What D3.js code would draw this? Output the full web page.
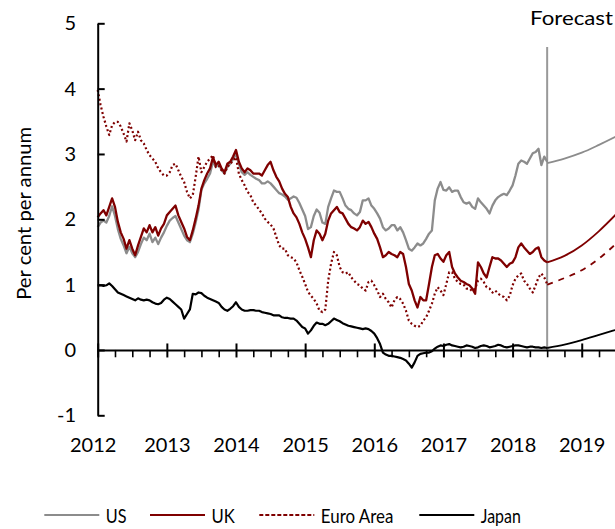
<!DOCTYPE html>
<html>
<head>
<meta charset="utf-8">
<script src="https://cdn.jsdelivr.net/npm/d3@7"></script>
<style>
  html, body { margin: 0; padding: 0; background: #fff; }
  svg { display: block; font-family: Lato, "Open Sans", sans-serif; }
</style>
</head>
<body>
<svg id="chart" width="615" height="529"></svg>
<script>
// ---------- DATA ----------
// History: semi-monthly observations starting Jan 2012 (decimal years), ending mid-2018
const histStart = 2012;
const histStep = 1 / 24;

const usHist = [
  1.88,1.95,1.98,1.95,2.05,2.20,2.05,1.85,1.70,1.60,1.48,1.58,1.48,1.42,1.50,1.62,1.72,1.68,1.78,1.65,1.72,1.62,1.72,1.80,1.90,1.98,2.02,2.05,1.95,1.85,1.75,1.68,1.65,1.78,1.95,2.15,2.45,2.55,2.62,2.70,2.88,
  2.80,2.85,2.75,2.70,2.80,2.85,2.92,3.00,2.85,2.72,2.68,2.72,2.68,2.65,2.62,2.60,2.55,2.55,2.58,2.55,2.50,2.45,2.40,2.38,2.35,2.30,2.32,2.35,2.33,2.25,2.15,2.05,1.85,1.88,2.05,2.15,2.10,1.95,
  1.93,2.19,2.32,2.44,2.42,2.42,2.32,2.21,2.16,2.14,2.09,2.06,2.11,2.29,2.29,2.32,2.21,2.16,2.09,2.01,1.88,1.83,1.86,1.91,1.91,1.83,1.88,1.80,1.68,1.55,1.52,1.57,1.63,1.60,1.63,1.70,1.78,1.83,2.29,2.47,2.57,2.45,
  2.44,2.49,2.42,2.44,2.44,2.34,2.26,2.24,2.26,2.19,2.16,2.32,2.26,2.21,2.16,2.09,2.21,2.29,2.34,2.37,2.39,2.37,2.44,2.52,2.67,2.85,2.90,2.88,2.85,2.93,3.01,3.03,3.08,2.83,2.96,2.88
];
const ukHist = [
  2.03,2.09,2.14,2.06,2.19,2.32,2.19,1.96,1.80,1.70,1.55,1.68,1.55,1.45,1.60,1.73,1.86,1.80,1.91,1.80,1.88,1.75,1.86,1.93,2.06,2.11,2.16,2.21,2.06,1.96,1.86,1.73,1.68,1.83,2.01,2.21,2.47,2.60,2.70,2.78,2.95,
  2.83,2.88,2.78,2.72,2.85,2.88,2.96,3.06,2.88,2.78,2.72,2.78,2.75,2.70,2.70,2.70,2.67,2.75,2.83,2.88,2.75,2.65,2.58,2.47,2.39,2.34,2.19,2.09,2.03,1.93,1.80,1.70,1.57,1.42,1.68,1.83,1.78,1.68,
  1.78,1.98,2.09,2.14,2.19,2.11,2.09,2.01,1.93,1.88,1.86,1.83,1.88,1.98,1.93,1.96,1.88,1.78,1.70,1.57,1.42,1.45,1.50,1.47,1.45,1.42,1.50,1.47,1.27,1.01,0.91,0.76,0.65,0.81,0.76,0.76,1.01,1.27,1.45,1.47,1.40,1.35,
  1.45,1.50,1.27,1.17,1.11,1.06,1.04,1.01,0.99,0.94,0.86,1.34,1.27,1.17,1.11,1.27,1.42,1.40,1.40,1.37,1.32,1.27,1.32,1.34,1.42,1.57,1.63,1.57,1.52,1.47,1.50,1.55,1.57,1.42,1.37,1.34
];
const euroHist = [
  3.98,3.75,3.57,3.42,3.29,3.44,3.49,3.49,3.42,3.31,3.19,3.47,3.36,3.21,3.34,3.21,3.16,3.06,2.98,2.93,2.88,2.78,2.72,2.67,2.67,2.72,2.83,2.85,2.75,2.65,2.57,2.42,2.32,2.37,2.65,2.96,2.72,2.80,2.88,2.93,2.98,
  2.80,2.82,2.75,2.70,2.80,2.85,2.90,2.95,2.70,2.60,2.52,2.42,2.37,2.26,2.21,2.15,2.09,2.01,1.96,1.92,1.86,1.73,1.60,1.55,1.55,1.45,1.42,1.40,1.34,1.22,1.12,1.01,0.89,0.83,0.78,0.71,0.60,0.58,
  0.62,1.06,1.32,1.50,1.45,1.27,1.19,1.17,1.19,1.11,1.06,1.01,0.99,0.94,0.91,1.04,1.06,0.99,0.91,0.81,0.86,0.78,0.73,0.65,0.76,0.81,0.78,0.71,0.60,0.45,0.40,0.37,0.35,0.37,0.45,0.50,0.60,0.71,0.86,0.96,0.91,0.84,
  1.01,1.19,1.19,1.09,1.04,1.01,1.00,0.94,0.94,0.90,0.94,1.06,1.09,1.04,0.96,0.94,0.88,0.91,0.86,0.83,0.81,0.76,0.83,0.99,1.09,1.14,1.17,1.06,1.01,0.94,0.88,0.99,1.11,1.17,1.11,1.01
];
const japanHist = [
  0.99,0.99,0.98,0.99,1.02,0.98,0.93,0.88,0.86,0.84,0.82,0.80,0.78,0.76,0.79,0.77,0.76,0.77,0.76,0.73,0.71,0.70,0.72,0.77,0.80,0.78,0.74,0.70,0.66,0.62,0.48,0.55,0.62,0.86,0.85,0.88,0.87,0.83,0.80,0.78,0.76,
  0.74,0.72,0.66,0.62,0.60,0.63,0.67,0.73,0.66,0.62,0.60,0.60,0.61,0.61,0.60,0.60,0.58,0.57,0.56,0.55,0.53,0.53,0.53,0.50,0.49,0.49,0.48,0.48,0.45,0.40,0.35,0.33,0.25,0.30,0.37,0.42,0.40,0.40,
  0.38,0.40,0.44,0.48,0.46,0.44,0.41,0.39,0.37,0.36,0.35,0.34,0.33,0.32,0.33,0.32,0.29,0.25,0.18,0.09,-0.04,-0.07,-0.09,-0.09,-0.10,-0.11,-0.12,-0.14,-0.16,-0.21,-0.27,-0.19,-0.09,-0.06,-0.05,-0.04,-0.04,-0.02,0.02,0.05,0.07,0.06,
  0.08,0.09,0.07,0.06,0.05,0.04,0.05,0.07,0.06,0.05,0.03,0.04,0.06,0.07,0.06,0.04,0.05,0.06,0.08,0.07,0.05,0.04,0.05,0.06,0.07,0.07,0.06,0.05,0.04,0.05,0.05,0.04,0.04,0.03,0.04,0.03
];

// Forecast (from mid-2018)
const forecastDates = [2018.5, 2018.75, 2019.0, 2019.25, 2019.5];
const usForecast    = [2.86, 2.93, 3.02, 3.14, 3.27];
const ukForecast    = [1.34, 1.44, 1.60, 1.82, 2.08];
const euroForecast  = [1.00, 1.10, 1.22, 1.40, 1.63];
const japanForecast = [0.03, 0.08, 0.15, 0.23, 0.31];
const forecastStart = 2018.5;

const yTicks = [-1, 0, 1, 2, 3, 4, 5];
const yearTicks = [2012, 2013, 2014, 2015, 2016, 2017, 2018, 2019];
const seriesNames = ["US", "UK", "Euro Area", "Japan"];
const yLabel = "Per cent per annum";
const forecastLabel = "Forecast";

// ---------- CHART ----------
const svg = d3.select("#chart");

const x = d3.scaleLinear().domain([2012, 2019.5]).range([97.7, 616.3]);
const y = d3.scaleLinear().domain([-1, 5]).range([415.3, 23.3]);

const colors = { US: "#8c8c8c", UK: "#7f0000", "Euro Area": "#7f0000", Japan: "#000000" };

const histDates = usHist.map((_, i) => histStart + i * histStep);
const toPts = (dates, vals) => vals.map((v, i) => [dates[i], v]);

const lineHist = d3.line().x(d => x(d[0])).y(d => y(d[1]));
const lineFc = d3.line().x(d => x(d[0])).y(d => y(d[1])).curve(d3.curveMonotoneX);

// Forecast divider
svg.append("line")
  .attr("x1", x(forecastStart)).attr("x2", x(forecastStart))
  .attr("y1", 47).attr("y2", y(0))
  .attr("stroke", "#999").attr("stroke-width", 2);

svg.append("text")
  .attr("x", 530).attr("y", 25)
  .attr("font-size", 20).attr("fill", "#000")
  .attr("textLength", 83).attr("lengthAdjust", "spacingAndGlyphs")
  .text(forecastLabel);

// Series
const series = [
  { name: "US", hist: usHist, fc: usForecast, dashH: null, dashF: null, w: 2.3 },
  { name: "Euro Area", hist: euroHist, fc: euroForecast, dashH: "2,2.5", dashF: "6,6", w: 2.2 },
  { name: "UK", hist: ukHist, fc: ukForecast, dashH: null, dashF: null, w: 2.3 },
  { name: "Japan", hist: japanHist, fc: japanForecast, dashH: null, dashF: null, w: 2.2 }
];

const g = svg.append("g");
series.forEach(s => {
  g.append("path")
    .datum(toPts(histDates, s.hist))
    .attr("d", lineHist)
    .attr("fill", "none")
    .attr("stroke", colors[s.name])
    .attr("stroke-width", s.w)
    .attr("stroke-linejoin", "round")
    .attr("stroke-dasharray", s.dashH);
  g.append("path")
    .datum(toPts(forecastDates, s.fc))
    .attr("d", lineFc)
    .attr("fill", "none")
    .attr("stroke", colors[s.name])
    .attr("stroke-width", 1.8)
    .attr("stroke-dasharray", s.dashF);
});

// Y axis
const yAxis = d3.axisLeft(y).tickValues(yTicks).tickFormat(d => String(d))
  .tickSizeInner(-7).tickSizeOuter(0).tickPadding(21.7);
const yg = svg.append("g").attr("transform", `translate(${x(2012)},0)`).call(yAxis);
yg.select(".domain").attr("stroke", "#000").attr("stroke-width", 2);
yg.selectAll(".tick line").attr("stroke", "#000").attr("stroke-width", 2);
yg.selectAll(".tick text").attr("font-size", 20).attr("font-family", "Lato, sans-serif").attr("fill", "#000");

// X axis: quarterly minor ticks
const quarterTicks = d3.range(2012, 2019.5, 0.25).filter(t => !Number.isInteger(t));
const xMinor = d3.axisBottom(x).tickValues(quarterTicks).tickFormat("")
  .tickSizeInner(7.3).tickSizeOuter(0);
const xg1 = svg.append("g").attr("transform", `translate(0,${y(0)})`).call(xMinor);
xg1.select(".domain").attr("stroke", "#000").attr("stroke-width", 2);
xg1.selectAll(".tick line").attr("stroke", "#000").attr("stroke-width", 1.6);

// X axis: major year ticks + labels
const xMajor = d3.axisBottom(x).tickValues(yearTicks).tickFormat(d3.format("d"))
  .tickSizeInner(7.5).tickSizeOuter(0).tickPadding(80.7);
const xg2 = svg.append("g").attr("transform", `translate(0,${y(0)})`).call(xMajor);
xg2.select(".domain").remove();
xg2.selectAll(".tick line").attr("y1", -6.5).attr("stroke", "#000").attr("stroke-width", 2);
xg2.selectAll(".tick text").attr("font-size", 20).attr("font-family", "Lato, sans-serif").attr("fill", "#000");
xg2.selectAll(".tick").filter(d => d === 2012).select("text").attr("dx", -5);

// Y label
svg.append("text")
  .attr("transform", "translate(31,213.3) rotate(-90)")
  .attr("text-anchor", "middle")
  .attr("font-size", 20).attr("fill", "#000")
  .attr("textLength", 173).attr("lengthAdjust", "spacingAndGlyphs")
  .text(yLabel);

// Legend
const legendX = [44.3, 150, 259.3, 419.3];
const legendTextW = [20.7, 23.3, 72.6, 40];
const legendY = 515;
const legend = svg.append("g");
seriesNames.forEach((name, i) => {
  legend.append("line")
    .attr("x1", legendX[i]).attr("x2", legendX[i] + 55)
    .attr("y1", legendY).attr("y2", legendY)
    .attr("stroke", colors[name]).attr("stroke-width", 2)
    .attr("stroke-dasharray", name === "Euro Area" ? "4,2" : null);
  legend.append("text")
    .attr("x", legendX[i] + 61.5).attr("y", legendY + 8)
    .attr("font-size", 20).attr("fill", "#000")
    .attr("textLength", legendTextW[i]).attr("lengthAdjust", "spacingAndGlyphs")
    .text(name);
});
</script>
</body>
</html>
